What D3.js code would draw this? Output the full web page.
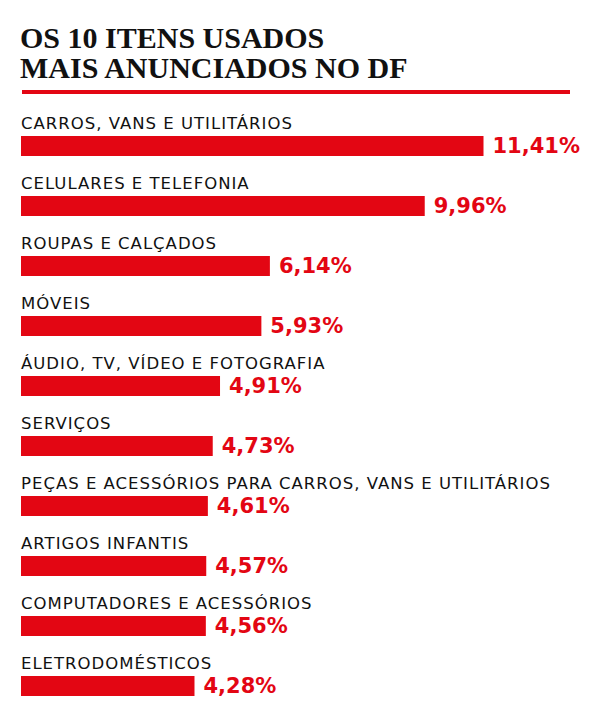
<!DOCTYPE html>
<html><head><meta charset="utf-8">
<script src="https://cdn.jsdelivr.net/npm/d3@7"></script>
<style>
body{margin:0;background:#fff;}
</style></head>
<body>
<svg id="c" width="600" height="723"></svg>
<script>
const titleLines = ["OS 10 ITENS USADOS", "MAIS ANUNCIADOS NO DF"];
const categories = [
  "CARROS, VANS E UTILITÁRIOS",
  "CELULARES E TELEFONIA",
  "ROUPAS E CALÇADOS",
  "MÓVEIS",
  "ÁUDIO, TV, VÍDEO E FOTOGRAFIA",
  "SERVIÇOS",
  "PEÇAS E ACESSÓRIOS PARA CARROS, VANS E UTILITÁRIOS",
  "ARTIGOS INFANTIS",
  "COMPUTADORES E ACESSÓRIOS",
  "ELETRODOMÉSTICOS"
];
const values = [11.41, 9.96, 6.14, 5.93, 4.91, 4.73, 4.61, 4.57, 4.56, 4.28];
const valueLabels = ["11,41%", "9,96%", "6,14%", "5,93%", "4,91%", "4,73%", "4,61%", "4,57%", "4,56%", "4,28%"];

const red = "#e30613";
const svg = d3.select("#c");

const x = d3.scaleLinear().domain([0, 11.41]).range([21, 483.5]);
const y = d3.scaleBand().domain(categories).range([106, 706]).padding(0);

// title
svg.append("g").selectAll("text").data(titleLines).join("text")
  .attr("x", 20).attr("y", (d, i) => 48 + i * 30)
  .attr("font-family", "Liberation Serif, serif")
  .attr("font-weight", "bold")
  .attr("font-size", 30)
  .attr("fill", "#111")
  .text(d => d);

svg.append("rect").attr("x", 22).attr("y", 90).attr("width", 548).attr("height", 4).attr("fill", red);

const rows = svg.append("g").selectAll("g").data(categories).join("g")
  .attr("transform", c => `translate(0,${y(c)})`);

rows.append("text")
  .attr("x", 21).attr("y", 23)
  .attr("font-family", "DejaVu Sans, sans-serif")
  .attr("font-size", 16.5)
  .attr("letter-spacing", 1.0)
  .attr("fill", "#111")
  .text(c => c);

rows.append("rect")
  .attr("x", x(0)).attr("y", 30)
  .attr("width", (c, i) => x(values[i]) - x(0))
  .attr("height", 20)
  .attr("fill", red);

rows.append("text")
  .attr("x", (c, i) => x(values[i]) + 9).attr("y", 47)
  .attr("font-family", "DejaVu Sans, sans-serif")
  .attr("font-weight", "bold")
  .attr("font-size", 21)
  .attr("fill", red)
  .text((c, i) => valueLabels[i]);
</script>
</body></html>
